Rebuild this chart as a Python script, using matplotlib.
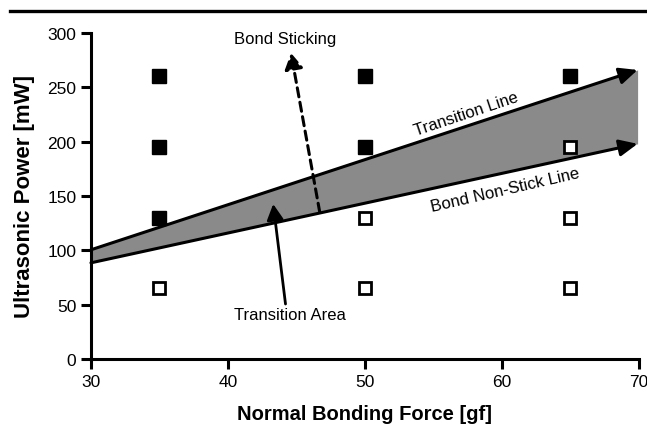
import matplotlib
matplotlib.use("Agg")
import matplotlib.pyplot as plt
from matplotlib.lines import Line2D

plt.rcParams['font.family'] = ['Liberation Sans', 'DejaVu Sans']

# data
filled_x = [35, 35, 35, 50, 50, 65]
filled_y = [260, 195, 130, 260, 195, 260]
open_x = [35, 50, 50, 65, 65, 65]
open_y = [65, 130, 65, 195, 130, 65]
trans_line_x = [30, 69.9]
trans_line_y = [100.5, 266]
nonstick_line_x = [30, 69.9]
nonstick_line_y = [88.5, 198]
sticking_arrow_x = [46.7, 44.6]
sticking_arrow_y = [135, 281.6]
area_arrow_x = [44.2, 43.3]
area_arrow_y = [50.6, 142.6]
x_ticks = [30, 40, 50, 60, 70]
y_ticks = [0, 50, 100, 150, 200, 250, 300]

fig = plt.figure(figsize=(6.47, 4.27), dpi=100)
ax = fig.add_axes([0.1406, 0.1569, 0.847, 0.7635])

ax.fill_between(trans_line_x, nonstick_line_y, trans_line_y, color='#8a8a8a', lw=0, zorder=1)
main_style = '-|>,head_length=1.1,head_width=0.5'
ax.annotate('', xy=(trans_line_x[1], trans_line_y[1]), xytext=(trans_line_x[0], trans_line_y[0]),
            arrowprops=dict(arrowstyle=main_style, lw=2.2, color='black', mutation_scale=10,
                            shrinkA=0, shrinkB=0), zorder=3)
ax.annotate('', xy=(nonstick_line_x[1], nonstick_line_y[1]), xytext=(nonstick_line_x[0], nonstick_line_y[0]),
            arrowprops=dict(arrowstyle=main_style, lw=2.2, color='black', mutation_scale=10,
                            shrinkA=0, shrinkB=0), zorder=3)

ax.plot(filled_x, filled_y, 's', ms=9.8, color='black', zorder=4, clip_on=False)
ax.plot(open_x, open_y, 's', ms=8.6, mfc='white', mec='black', mew=2.0, zorder=4, clip_on=False)

# Bond sticking dotted arrow
ax.annotate('', xy=(sticking_arrow_x[1], sticking_arrow_y[1]), xytext=(sticking_arrow_x[0], sticking_arrow_y[0]),
            arrowprops=dict(arrowstyle='-|>,head_length=0.95,head_width=0.55', lw=2.2, color='black',
                            mutation_scale=10, linestyle=(0, (3.0, 1.8)), shrinkA=0, shrinkB=0), zorder=5)
ax.text(44.2, 294.5, 'Bond Sticking', ha='center', va='center', fontsize=12)

# Transition area arrow
ax.annotate('', xy=(area_arrow_x[1], area_arrow_y[1]), xytext=(area_arrow_x[0], area_arrow_y[0]),
            arrowprops=dict(arrowstyle='-|>,head_length=0.95,head_width=0.5', lw=2.0, color='black',
                            mutation_scale=10, shrinkA=0, shrinkB=0), zorder=5)
ax.text(44.5, 41.4, 'Transition Area', ha='center', va='center', fontsize=12)

ax.text(57.4, 225.5, 'Transition Line', ha='center', va='center', fontsize=12, rotation=18.5)
ax.text(60.2, 156.4, 'Bond Non-Stick Line', ha='center', va='center', fontsize=12, rotation=13)

ax.set_xlim(30, 70)
ax.set_ylim(0, 300)
ax.set_xticks(x_ticks)
ax.set_yticks(y_ticks)
ax.spines['top'].set_visible(False)
ax.spines['right'].set_visible(False)
for s in ['left', 'bottom']:
    ax.spines[s].set_linewidth(2.2)
ax.tick_params(width=2.2, length=7, pad=3.5, labelsize=12.5, direction='out')
ax.set_xlabel('Normal Bonding Force [gf]', fontsize=14.5, fontweight='bold', labelpad=11)
ax.set_ylabel('Ultrasonic Power [mW]', fontsize=16, fontweight='bold', labelpad=9)

fig.add_artist(Line2D([0.0155, 1.0], [0.972, 0.972], lw=2.4, color='black', transform=fig.transFigure))

fig.savefig('out.png', dpi=100)
